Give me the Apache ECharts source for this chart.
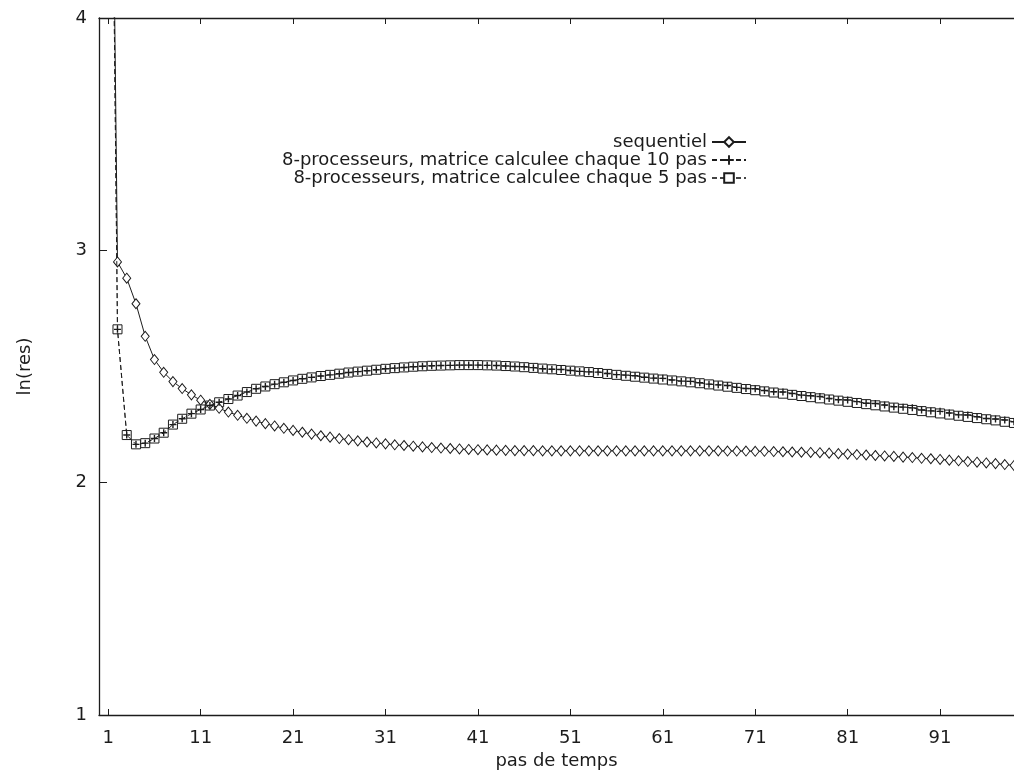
<!DOCTYPE html>
<html>
<head>
<meta charset="utf-8">
<script src="https://cdn.jsdelivr.net/npm/echarts@6/dist/echarts.min.js"></script>
<style>
  html, body { margin: 0; padding: 0; background: #fff; }
  #echarts { width: 1014px; height: 770px; }
</style>
</head>
<body>
<div id="echarts"></div>
<script>
// ticks de l'axe des x
var xTicks = [1, 11, 21, 31, 41, 51, 61, 71, 81, 91];

// sequentiel (pas 1..99)
var sequentiel = [
  6.5, 2.95, 2.88, 2.77, 2.63, 2.53, 2.475, 2.435, 2.405, 2.378,
  2.355, 2.337, 2.32, 2.304, 2.29, 2.277, 2.265, 2.254, 2.244, 2.234,
  2.225, 2.217, 2.209, 2.202, 2.196, 2.19, 2.185, 2.18, 2.175, 2.171,
  2.167, 2.163, 2.16, 2.157, 2.154, 2.151, 2.149, 2.147, 2.145, 2.143,
  2.142, 2.141, 2.14, 2.139, 2.138, 2.138, 2.138, 2.137, 2.137, 2.137,
  2.137, 2.137, 2.137, 2.137, 2.137, 2.137, 2.137, 2.137, 2.137, 2.137,
  2.137, 2.137, 2.137, 2.137, 2.137, 2.137, 2.137, 2.136, 2.136, 2.136,
  2.135, 2.135, 2.134, 2.133, 2.132, 2.131, 2.13, 2.129, 2.127, 2.125,
  2.123, 2.121, 2.119, 2.117, 2.115, 2.113, 2.11, 2.108, 2.105, 2.103,
  2.1, 2.097, 2.094, 2.091, 2.088, 2.085, 2.082, 2.078, 2.074
];

// 8 processeurs, matrice calculee chaque 10 pas
var proc10 = [
  6.5, 2.66, 2.205, 2.165, 2.17, 2.19, 2.215, 2.25, 2.275, 2.297,
  2.315, 2.332, 2.346, 2.36, 2.375, 2.39, 2.404, 2.414, 2.424, 2.432,
  2.44, 2.447, 2.453, 2.459, 2.464, 2.469, 2.474, 2.478, 2.482, 2.486,
  2.49, 2.493, 2.496, 2.499, 2.501, 2.503, 2.504, 2.505, 2.506, 2.506,
  2.506, 2.505, 2.504, 2.502, 2.5, 2.499, 2.495, 2.49, 2.488, 2.487,
  2.483, 2.479, 2.477, 2.476, 2.47, 2.465, 2.463, 2.46, 2.454, 2.45,
  2.449, 2.442, 2.437, 2.436, 2.43, 2.424, 2.421, 2.418, 2.41, 2.405,
  2.404, 2.397, 2.391, 2.39, 2.384, 2.377, 2.374, 2.371, 2.362, 2.357,
  2.356, 2.349, 2.342, 2.341, 2.334, 2.327, 2.325, 2.322, 2.313, 2.309,
  2.307, 2.3, 2.292, 2.291, 2.284, 2.276, 2.274, 2.27, 2.262
];

// 8 processeurs, matrice calculee chaque 5 pas
var proc5 = [
  6.5, 2.66, 2.205, 2.165, 2.17, 2.19, 2.215, 2.25, 2.275, 2.297,
  2.315, 2.332, 2.346, 2.36, 2.375, 2.39, 2.404, 2.414, 2.424, 2.432,
  2.44, 2.447, 2.453, 2.459, 2.464, 2.469, 2.474, 2.478, 2.482, 2.486,
  2.49, 2.493, 2.496, 2.499, 2.501, 2.503, 2.504, 2.505, 2.506, 2.506,
  2.506, 2.505, 2.504, 2.502, 2.5, 2.497, 2.494, 2.491, 2.488, 2.485,
  2.482, 2.479, 2.476, 2.472, 2.468, 2.464, 2.46, 2.456, 2.452, 2.448,
  2.444, 2.44, 2.436, 2.432, 2.428, 2.423, 2.418, 2.413, 2.408, 2.403,
  2.398, 2.393, 2.388, 2.383, 2.378, 2.373, 2.368, 2.363, 2.358, 2.353,
  2.348, 2.343, 2.338, 2.333, 2.328, 2.323, 2.318, 2.313, 2.308, 2.303,
  2.298, 2.293, 2.288, 2.283, 2.278, 2.273, 2.268, 2.262, 2.257
];

var INK = "#1c1c1c";
var FONT = "DejaVu Sans";

// [pas, valeur]
function pairs(arr) {
  return arr.map(function (v, i) { return [i + 1, v]; });
}

var chartDom = document.getElementById("echarts");
var myChart = echarts.init(chartDom);
var option;

option = {
  animation: false,
  backgroundColor: "#fff",
  textStyle: { fontFamily: FONT, color: INK },
  grid: { left: 99, right: 0, top: 18, bottom: 55, outerBoundsMode: "none" },
  legend: {
    orient: "vertical",
    align: "right",
    right: 262,
    top: 128,
    itemWidth: 34,
    itemHeight: 12,
    itemGap: 0,
    textStyle: { fontFamily: FONT, fontSize: 18, color: INK },
    data: [
      "sequentiel",
      "8-processeurs, matrice calculee chaque 10 pas",
      "8-processeurs, matrice calculee chaque 5 pas"
    ]
  },
  xAxis: [
    {
      type: "value",
      position: "bottom",
      min: 0,
      max: 99,
      name: "pas de temps",
      nameLocation: "middle",
      nameGap: 35,
      nameTextStyle: { fontFamily: FONT, fontSize: 18, color: INK },
      axisLine: { lineStyle: { color: INK, width: 1.3 } },
      axisTick: { inside: true, length: 6, customValues: xTicks, lineStyle: { color: INK } },
      axisLabel: { customValues: xTicks, margin: 14, fontFamily: FONT, fontSize: 18, color: INK },
      splitLine: { show: false }
    },
    {
      type: "value",
      position: "top",
      min: 0,
      max: 99,
      axisLine: { lineStyle: { color: INK, width: 1.3 } },
      axisTick: { inside: true, length: 6, customValues: xTicks, lineStyle: { color: INK } },
      axisLabel: { show: false },
      splitLine: { show: false }
    }
  ],
  yAxis: {
    type: "value",
    min: 1,
    max: 4,
    interval: 1,
    name: "ln(res)",
    nameLocation: "middle",
    nameRotate: 90,
    nameGap: 65,
    nameTextStyle: { fontFamily: FONT, fontSize: 18, color: INK },
    axisLine: { show: true, lineStyle: { color: INK, width: 1.3 } },
    axisTick: { show: true, inside: true, length: 8, lineStyle: { color: INK } },
    axisLabel: { margin: 12, fontFamily: FONT, fontSize: 18, color: INK },
    splitLine: { show: false }
  },
  series: [
    {
      name: "sequentiel",
      type: "line",
      data: pairs(sequentiel),
      symbol: "diamond",
      symbolSize: [8, 10],
      z: 3,
      lineStyle: { color: INK, width: 1 },
      itemStyle: { color: "#fff", borderColor: INK, borderWidth: 1 }
    },
    {
      name: "8-processeurs, matrice calculee chaque 10 pas",
      type: "line",
      data: pairs(proc10),
      symbol: "path://M4,0H6V4H10V6H6V10H4V6H0V4H4Z",
      symbolSize: 7,
      z: 4,
      lineStyle: { color: INK, width: 1, type: [5, 3] },
      itemStyle: { color: INK, borderWidth: 0 }
    },
    {
      name: "8-processeurs, matrice calculee chaque 5 pas",
      type: "line",
      data: pairs(proc5),
      symbol: "rect",
      symbolSize: 9,
      z: 2,
      lineStyle: { color: "#444", width: 1, type: [5, 3] },
      itemStyle: { color: "#fff", borderColor: INK, borderWidth: 1 }
    }
  ]
};

option && myChart.setOption(option);
</script>
</body>
</html>
